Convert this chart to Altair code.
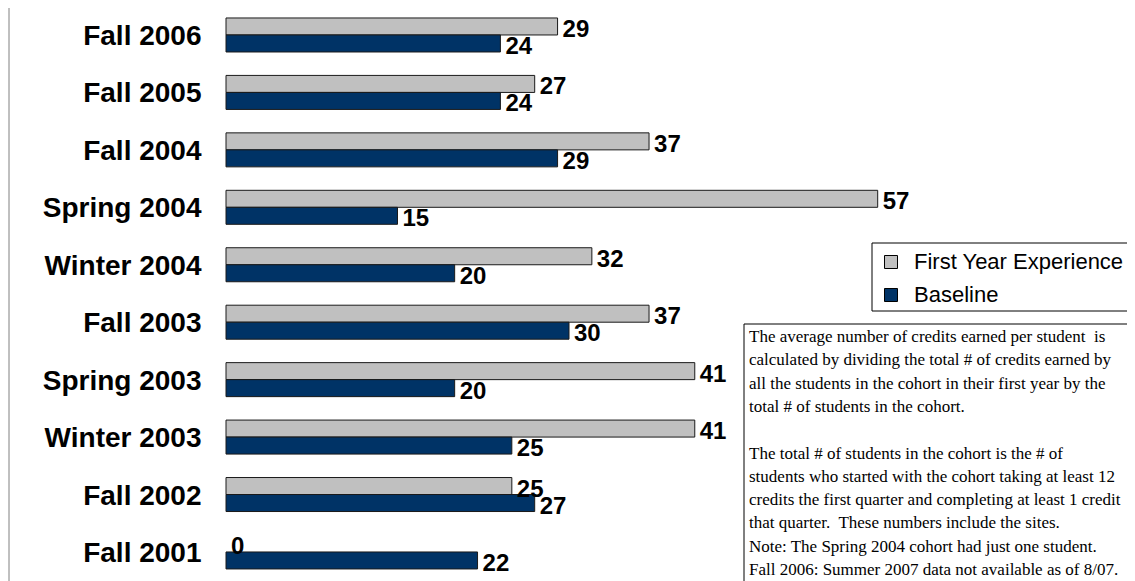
import altair as alt
import pandas as pd

cohorts = ["Fall 2006", "Fall 2005", "Fall 2004", "Spring 2004", "Winter 2004",
           "Fall 2003", "Spring 2003", "Winter 2003", "Fall 2002", "Fall 2001"]
series_names = ["First Year Experience", "Baseline"]
fye_values = [29, 27, 37, 57, 32, 37, 41, 41, 25, 0]
baseline_values = [24, 24, 29, 15, 20, 30, 20, 25, 27, 22]
series_colors = ["#C0C0C0", "#003366"]
NB = "\u00a0"
note_para1 = [
    "The average number of credits earned per student" + NB + " is",
    "calculated by dividing the total # of credits earned by",
    "all the students in the cohort in their first year by the",
    "total # of students in the cohort.",
]
note_para2 = [
    "The total # of students in the cohort is the # of",
    "students who started with the cohort taking at least 12",
    "credits the first quarter and completing at least 1 credit",
    "that quarter." + NB + " These numbers include the sites.",
    "Note: The Spring 2004 cohort had just one student.",
    "Fall 2006: Summer 2007 data not available as of 8/07.",
]

rows = []
for c, a, b in zip(cohorts, fye_values, baseline_values):
    rows.append({"cohort": c, "series": series_names[0], "value": a})
    rows.append({"cohort": c, "series": series_names[1], "value": b})
df = pd.DataFrame(rows)
deco = pd.DataFrame({"p1": ["\n".join(note_para1)], "p2": ["\n".join(note_para2)]})

y_enc = alt.Y(
    "cohort:N", sort=cohorts, title=None,
    scale=alt.Scale(paddingInner=0.408, paddingOuter=0.122, align=0.712),
    axis=alt.Axis(domain=False, ticks=False, tickSize=0, grid=False,
                  labelFont="Liberation Sans", labelFontWeight="bold",
                  labelFontSize=28, labelColor="black", labelPadding=25,
                  labelOffset=2, labelAlign="right", labelBaseline="middle",
                  labelLimit=400),
)
x_enc = alt.X("value:Q", scale=alt.Scale(domain=[0, 60]), axis=None)
yoff_enc = alt.YOffset("series:N", sort=series_names,
                       scale=alt.Scale(paddingInner=0, paddingOuter=0))

legend_frame = alt.Chart(deco).mark_rect(fill="white", stroke="black", strokeWidth=1).encode(
    x=alt.value(646), x2=alt.value(1100), y=alt.value(235), y2=alt.value(303)
)

bars = alt.Chart(df).transform_filter("datum.value > 0").mark_bar(
    stroke="#1a1a1a", strokeWidth=1
).encode(
    x=x_enc, y=y_enc, yOffset=yoff_enc,
    color=alt.Color(
        "series:N",
        scale=alt.Scale(domain=series_names, range=series_colors),
        legend=alt.Legend(
            title=None, orient="none", legendX=646, legendY=235,
            direction="vertical", symbolType="square", symbolSize=169,
            symbolStrokeColor="black", symbolStrokeWidth=1,
            labelFont="Liberation Sans", labelFontSize=22, labelColor="black",
            labelOffset=12, rowPadding=11, padding=8, labelLimit=400,
        ),
    ),
)

labels = alt.Chart(df).mark_text(
    align="left", baseline="alphabetic", dx=5, dy=10.5,
    font="Liberation Sans", fontWeight="bold", fontSize=24, color="black"
).encode(x=x_enc, y=y_enc, yOffset=yoff_enc, text=alt.Text("value:Q", format="d"))

box = alt.Chart(deco).mark_rect(fill="white", stroke="black", strokeWidth=1).encode(
    x=alt.value(518), x2=alt.value(1100), y=alt.value(316), y2=alt.value(700)
)
note_style = dict(align="left", baseline="alphabetic", font="Liberation Serif",
                  fontSize=17, lineHeight=23.3, lineBreak="\n", color="black")
note1 = alt.Chart(deco).mark_text(**note_style).encode(
    x=alt.value(523), y=alt.value(334), text="p1:N")
note2 = alt.Chart(deco).mark_text(**note_style).encode(
    x=alt.value(523), y=alt.value(450.5), text="p2:N")
border = alt.Chart(deco).mark_rule(color="#808080", strokeWidth=1).encode(
    x=alt.value(-217), y=alt.value(-20), y2=alt.value(700)
)

chart = alt.layer(legend_frame, bars, labels, box, note1, note2, border).properties(
    width=686, height=565,
    autosize=alt.AutoSizeParams(type="none"),
    padding={"left": 218, "top": 0, "right": 215, "bottom": 8},
).configure_view(stroke=None)

chart.save("out.html", embed_options={"renderer": "svg", "actions": False})
